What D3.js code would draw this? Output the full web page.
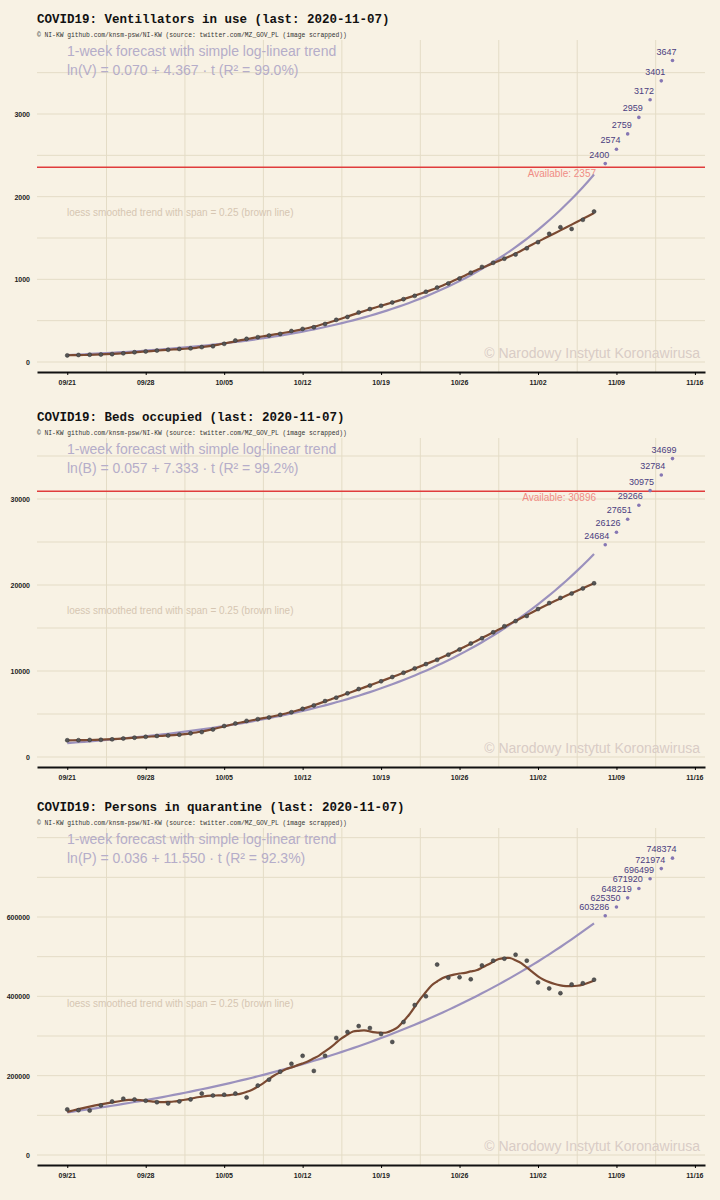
<!DOCTYPE html>
<html><head><meta charset="utf-8">
<script src="https://cdn.jsdelivr.net/npm/d3@7"></script>
<style>body{margin:0;background:#f8f2e4}svg{display:block}</style>
</head><body><svg id="c" width="720" height="1200"></svg>
<script>
const startDate = "2020-09-21";
const tickLabels = ["09/21","09/28","10/05","10/12","10/19","10/26","11/02","11/09","11/16"];
const ventValues = [80,85,88,90,95,105,118,128,138,148,158,165,180,190,220,260,280,300,320,340,375,400,420,460,510,545,600,640,680,720,760,800,850,900,950,1010,1080,1150,1200,1250,1300,1375,1450,1550,1630,1610,1720,1820];
const ventForecast = [2400,2574,2759,2959,3172,3401,3647];
const bedValues = [1950,1950,1980,2000,2050,2150,2250,2350,2450,2500,2600,2750,2900,3200,3600,3900,4200,4400,4600,4900,5200,5600,6000,6500,6900,7400,7900,8300,8800,9300,9800,10300,10800,11300,11900,12500,13200,13800,14500,15200,15800,16400,17200,17900,18500,19000,19600,20200];
const bedForecast = [24684,26126,27651,29266,30975,32784,34699];
const quarValues = [115000,113000,112000,125000,135000,142000,140000,137000,133000,130000,135000,140000,155000,150000,152000,155000,145000,175000,190000,210000,230000,250000,212000,250000,295000,310000,325000,320000,305000,285000,335000,378000,400000,480000,447000,448000,443000,478000,490000,495000,505000,490000,435000,420000,408000,430000,433000,442000];
const quarForecast = [603286,625350,648219,671920,696499,721974,748374];
const panels = [
 {top:0, title:"COVID19: Ventillators in use (last: 2020-11-07)", letter:"V", a:4.367, b:0.070, r2:"99.0%", vals:ventValues, fc:ventForecast, avail:2357, step:500, lab:1000, y0:362, y1:114, v1:3000, axisY:372},
 {top:398, title:"COVID19: Beds occupied (last: 2020-11-07)", letter:"B", a:7.333, b:0.057, r2:"99.2%", vals:bedValues, fc:bedForecast, avail:30896, step:5000, lab:10000, y0:757, y1:499, v1:30000, axisY:767},
 {top:788, title:"COVID19: Persons in quarantine (last: 2020-11-07)", letter:"P", a:11.550, b:0.036, r2:"92.3%", vals:quarValues, fc:quarForecast, avail:null, step:100000, lab:200000, y0:1155, y1:917, v1:600000, axisY:1165}
];
const svg = d3.select("#c");
svg.append("rect").attr("width",720).attr("height",1200).attr("fill","#f8f2e4");
const d0 = new Date(startDate+"T00:00:00Z");
const day = i => new Date(d0.getTime()+i*864e5);
const x = d3.scaleUtc().domain([day(-2.7), day(56.9)]).range([37,705]);

function loess(xs, ys, span, at){
  const n=xs.length, q=Math.floor(span*n);
  return at.map(x0=>{
    const d=xs.map(v=>Math.abs(v-x0));
    const h=d.slice().sort((a,b)=>a-b)[q-1]*1.0001;
    let S=[[0,0,0],[0,0,0],[0,0,0]],T=[0,0,0];
    for(let i=0;i<n;i++){const u=d[i]/h; if(u>=1)continue; const w=Math.pow(1-u*u*u,3);
      const z=[1,xs[i]-x0,(xs[i]-x0)**2];
      for(let r=0;r<3;r++){T[r]+=w*z[r]*ys[i];for(let c=0;c<3;c++)S[r][c]+=w*z[r]*z[c];}}
    const M=S.map((r,i)=>[...r,T[i]]);
    for(let i=0;i<3;i++){let p=i;for(let k=i+1;k<3;k++)if(Math.abs(M[k][i])>Math.abs(M[p][i]))p=k;[M[i],M[p]]=[M[p],M[i]];
      for(let k=0;k<3;k++){if(k===i)continue;const f=M[k][i]/M[i][i];for(let c=i;c<4;c++)M[k][c]-=f*M[i][c];}}
    return M[0][3]/M[0][0];
  });
}

panels.forEach(p=>{
  const g=svg.append("g");
  const y=d3.scaleLinear().domain([0,p.v1]).range([p.y0,p.y1]);
  const yTop=p.top+40, yBot=p.axisY-4;
  const vmax=y.invert(yTop);
  d3.range(0, vmax, p.step).forEach(v=>{
    g.append("line").attr("x1",37).attr("x2",705).attr("y1",y(v)).attr("y2",y(v)).attr("stroke","#e4dcc6").attr("stroke-width",1);
  });
  for(let k=0;k<8;k++){const xx=x(day(7*k+3.5));
    g.append("line").attr("x1",xx).attr("x2",xx).attr("y1",yTop).attr("y2",yBot+4).attr("stroke","#e4dcc6");}
  d3.range(0, y.invert(yTop+25), p.lab).forEach(v=>{
    g.append("text").attr("x",30).attr("y",y(v)+3).attr("text-anchor","end").attr("font-family","Liberation Sans Narrow, Liberation Sans, sans-serif").attr("font-size",7).attr("font-weight","bold").attr("fill","#222").text(v);
  });
  const ax=g.append("g").attr("transform",`translate(0,${p.axisY})`).call(d3.axisBottom(x).tickValues(tickLabels.map((t,i)=>day(7*i))).tickFormat("").tickSize(3).tickSizeOuter(0));
  ax.select(".domain").attr("stroke","#111").attr("stroke-width",2);
  tickLabels.forEach((t,i)=>g.append("text").attr("x",x(day(7*i))).attr("y",p.axisY+13).attr("text-anchor","middle").attr("font-family","Liberation Sans Narrow, Liberation Sans, sans-serif").attr("font-size",7).attr("font-weight","bold").attr("fill","#222").text(t));
  g.append("text").attr("x",37).attr("y",p.top+23).attr("font-family","Liberation Mono, monospace").attr("font-weight","bold").attr("font-size",12.5).attr("fill","#111").text(p.title);
  g.append("text").attr("x",37).attr("y",p.top+37).attr("font-family","Liberation Mono, monospace").attr("font-size",6.3).attr("fill","#333").text("© NI-KW github.com/knsm-psw/NI-KW (source: twitter.com/MZ_GOV_PL (image scrapped))");
  g.append("text").attr("x",67).attr("y",p.top+56).attr("font-family","Liberation Sans, sans-serif").attr("font-size",14).attr("fill","#b5adc9").text("1-week forecast with simple log-linear trend");
  g.append("text").attr("x",67).attr("y",p.top+75).attr("font-family","Liberation Sans, sans-serif").attr("font-size",14).attr("fill","#b5adc9").text(`ln(${p.letter}) = ${p.b.toFixed(3)} + ${p.a.toFixed(3)} · t (R² = ${p.r2})`);
  const loessY = p.top===788 ? 1007 : p.top+216;
  g.append("text").attr("x",67).attr("y",loessY).attr("font-family","Liberation Sans Narrow, Liberation Sans, sans-serif").attr("font-size",10).attr("fill","#d6c6b2").text("loess smoothed trend with span = 0.25 (brown line)");
  g.append("text").attr("x",700).attr("y",p.y0-4).attr("text-anchor","end").attr("font-family","Liberation Sans, sans-serif").attr("font-size",14).attr("fill","#d9ccc6").text("© Narodowy Instytut Koronawirusa");
  if(p.avail!==null){
    g.append("line").attr("x1",37).attr("x2",705).attr("y1",y(p.avail)).attr("y2",y(p.avail)).attr("stroke","#e03c3c").attr("stroke-width",1.5);
    g.append("text").attr("x",596).attr("y",y(p.avail)+10).attr("text-anchor","end").attr("font-family","Liberation Sans, sans-serif").attr("font-size",10).attr("fill","#f08c84").text("Available: "+p.avail);
  }
  const tt=d3.range(0,47.01,0.5);
  g.append("path").attr("d",d3.line().x(t=>x(day(t))).y(t=>y(Math.exp(p.a+p.b*(t+1))))(tt)).attr("fill","none").attr("stroke","#9b91bd").attr("stroke-width",2.2);
  const xs=p.vals.map((v,i)=>i);
  const sm=loess(xs,p.vals,0.25,tt);
  g.append("path").attr("d",d3.line().x((t)=>x(day(t))).y((t,i)=>y(sm[i])).curve(d3.curveBasis)(tt)).attr("fill","none").attr("stroke","#7b4a32").attr("stroke-width",2.2);
  p.vals.forEach((v,i)=>g.append("circle").attr("cx",x(day(i))).attr("cy",y(v)).attr("r",2).attr("fill","#555").attr("stroke","#333").attr("stroke-width",0.5));
  p.fc.forEach((v,i)=>{
    const cx=x(day(48+i)), cy=y(v);
    g.append("circle").attr("cx",cx).attr("cy",cy).attr("r",1.8).attr("fill","#8677b3");
    g.append("text").attr("x",cx+4).attr("y",cy-6).attr("text-anchor","end").attr("font-family","Liberation Sans Narrow, Liberation Sans, sans-serif").attr("font-size",9).attr("fill","#4a3d80").text(v);
  });
});
</script></body></html>
